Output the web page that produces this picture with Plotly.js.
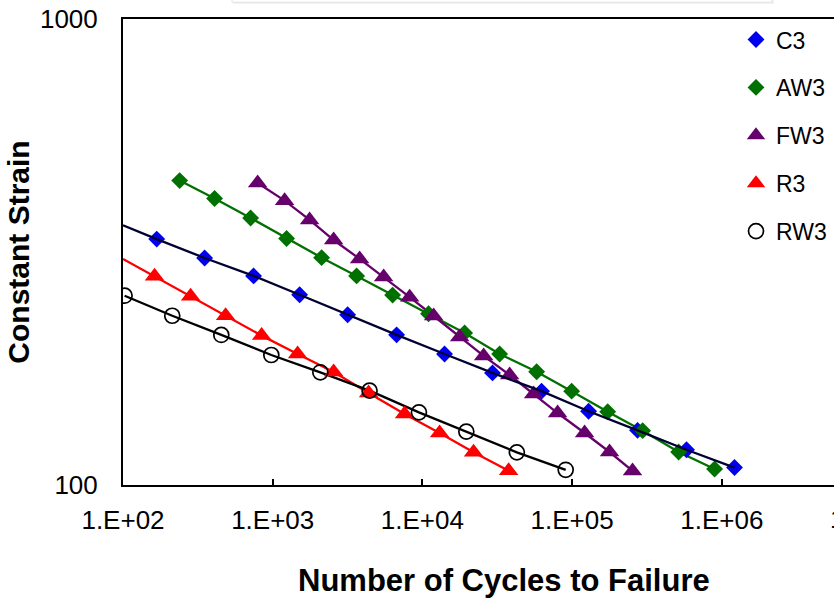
<!DOCTYPE html>
<html>
<head>
<meta charset="utf-8">
<script src="https://cdn.plot.ly/plotly-3.0.1.min.js"></script>
<style>html,body{margin:0;padding:0;background:#fff;}#chart{width:834px;height:599px;}</style>
</head>
<body>
<div id="chart"></div>
<script>
// ---- data ----
const seriesNames = ["C3", "AW3", "FW3", "R3", "RW3"];

const c3Cycles = [168, 351, 745, 1513, 3166, 6725, 14060, 29400, 62500, 128900, 273600, 581000, 1216000];
const c3Strain = [337, 307, 281, 256, 232, 210, 191, 174, 159, 144, 131, 119, 109];

const aw3Cycles = [239, 409, 712, 1238, 2122, 3635, 6324, 10990, 19140, 32800, 57960, 99300, 172900, 296000, 515000, 895000];
const aw3Strain = [450, 412, 374, 338, 307.5, 281, 255.6, 233, 212, 191, 175, 159, 143.6, 130.8, 117.7, 108.2];

const fw3Cycles = [793, 1201, 1764, 2553, 3808, 5510, 8220, 11890, 17740, 25650, 38270, 55340, 80000, 121200, 177900, 253300];
const fw3Strain = [444.6, 407.6, 370.6, 335.5, 305.6, 279.5, 253, 230.5, 207.8, 189.2, 172.2, 156.8, 142.7, 129.3, 117.7, 107.2];

const r3Cycles = [162.5, 282.9, 484.7, 843, 1467, 2553, 4372, 7600, 13030, 21970, 37670];
const r3Strain = [280.5, 254, 230.8, 209.2, 191, 174.8, 157.6, 142, 129.3, 117.5, 107.3];

const rw3Cycles = [102.5, 213.3, 453.5, 978.8, 2080, 4437, 9480, 19650, 42750, 90600];
const rw3Strain = [254.8, 230.8, 209.9, 190.1, 174.5, 159.4, 143.2, 130.2, 117.5, 107.8];

// trend lines of C3 and R3 start at the left axis
const c3LineStart = [100, 361];
const r3LineStart = [100, 305.5];

const xTickVals = [1e2, 1e3, 1e4, 1e5, 1e6];
const xTickText = ["1.E+02", "1.E+03", "1.E+04", "1.E+05", "1.E+06"];
const xCutTickVal = 1e7;
const xCutTickText = "1.E+07";
const yTickVals = [100, 1000];
const yTickText = ["100", "1000"];

// ---- styles ----
const FONT = "Arial, 'Liberation Sans', sans-serif";
const W = 834, H = 599;
const M = {l: 123, r: 0, t: 19, b: 114};
const pxPerDecade = 149.7;
const xMaxLog = 2 + (W - M.l - M.r) / pxPerDecade;

function lineTrace(x, y, color, width) {
  return {x: x, y: y, type: "scatter", mode: "lines", showlegend: false, hoverinfo: "skip",
          line: {color: color, width: width}};
}
function markerTrace(name, x, y, marker) {
  return {x: x, y: y, name: name, legendgroup: name, type: "scatter", mode: "markers", marker: marker};
}

const traces = [
  lineTrace(aw3Cycles, aw3Strain, "#007000", 2.3),
  lineTrace(fw3Cycles, fw3Strain, "#66006b", 2.3),
  lineTrace([r3LineStart[0]].concat(r3Cycles), [r3LineStart[1]].concat(r3Strain), "#ff0000", 2.3),
  lineTrace(rw3Cycles, rw3Strain, "#000000", 2.3),
  markerTrace(seriesNames[0], c3Cycles, c3Strain, {symbol: "diamond", size: 13, color: "#0000ee"}),
  markerTrace(seriesNames[1], aw3Cycles, aw3Strain, {symbol: "diamond", size: 13, color: "#007000"}),
  markerTrace(seriesNames[2], fw3Cycles, fw3Strain, {symbol: "triangle-up", size: 17, color: "#66006b"}),
  markerTrace(seriesNames[3], r3Cycles, r3Strain, {symbol: "triangle-up", size: 17, color: "#ff0000"}),
  markerTrace(seriesNames[4], rw3Cycles, rw3Strain, {symbol: "circle-open", size: 15, color: "#000000", line: {width: 1.7, color: "#000000"}}),
  lineTrace([c3LineStart[0]].concat(c3Cycles), [c3LineStart[1]].concat(c3Strain), "#000033", 2.3)
];

const plotW = W - M.l - M.r;
function paperX(px) { return (px - M.l) / plotW; }

const layout = {
  width: W, height: H,
  margin: M,
  paper_bgcolor: "#ffffff", plot_bgcolor: "#ffffff",
  font: {family: FONT, color: "#000000"},
  showlegend: true,
  legend: {
    x: paperX(736), xanchor: "left", y: 1.002, yanchor: "top",
    bgcolor: "rgba(0,0,0,0)", font: {size: 23, family: FONT, color: "#000"},
    tracegroupgap: 15, itemwidth: 30
  },
  xaxis: {
    type: "log", range: [2, xMaxLog], autorange: false,
    tickvals: xTickVals, ticktext: xTickText,
    ticks: "inside", ticklen: 6, tickwidth: 2, tickcolor: "#000",
    showline: true, linecolor: "#000", linewidth: 2, mirror: true,
    showgrid: false, zeroline: false,
    tickfont: {size: 26, family: FONT, color: "#000"},
    ticklabelstandoff: 11
  },
  yaxis: {
    type: "log", range: [2, 3], autorange: false,
    tickvals: yTickVals, ticktext: yTickText,
    ticks: "",
    showline: true, linecolor: "#000", linewidth: 2,
    showgrid: false, zeroline: false,
    tickfont: {size: 26, family: FONT, color: "#000"},
    ticklabelstandoff: 18,
    title: {text: "Constant Strain", font: {size: 30, family: FONT, color: "#000", weight: "bold"}, standoff: 1}
  },
  annotations: [
    {text: "Number of Cycles to Failure", xref: "paper", yref: "paper",
     x: paperX(504), y: -0.205, xanchor: "center", yanchor: "middle", showarrow: false,
     font: {size: 31, family: FONT, color: "#000", weight: "bold"}},
    {text: xCutTickText, xref: "paper", yref: "paper",
     x: (Math.log10(xCutTickVal) - 2) / (xMaxLog - 2), y: -0.072, xanchor: "center", yanchor: "middle",
     showarrow: false, font: {size: 26, family: FONT, color: "#000"}}
  ],
  shapes: [
    {type: "rect", xref: "paper", yref: "paper", x0: paperX(234), x1: paperX(774), y0: 1.032, y1: 1.2,
     line: {width: 0}, fillcolor: "rgba(0,0,0,0.05)", layer: "above"},
    {type: "rect", xref: "paper", yref: "paper", x0: paperX(232), x1: paperX(772), y0: 1.036, y1: 1.2,
     line: {color: "#e2e2e2", width: 1}, fillcolor: "#ffffff", layer: "above"}
  ]
};

Plotly.newPlot("chart", traces, layout, {staticPlot: true, displayModeBar: false});
</script>
</body>
</html>
